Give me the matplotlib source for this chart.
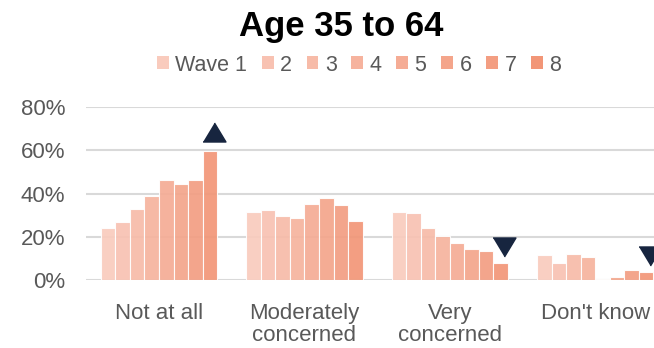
import numpy as np
import matplotlib.pyplot as plt
from matplotlib.patches import Patch

plt.rcParams['font.family'] = ['Liberation Sans', 'DejaVu Sans']

categories = ["Not at all", "Moderately\nconcerned", "Very\nconcerned", "Don't know"]
waves = ["Wave 1", "2", "3", "4", "5", "6", "7", "8"]

# share of respondents (%) per wave, one list per answer
not_at_all = [24.2, 27.0, 32.7, 39.0, 46.1, 44.4, 46.1, 59.6]
moderately = [31.5, 32.4, 29.6, 28.7, 35.0, 37.8, 34.6, 27.2]
very = [31.5, 31.0, 24.2, 20.4, 17.2, 14.4, 13.5, 8.1]
dont_know = [11.5, 8.0, 12.3, 10.6, 0.6, 1.7, 4.7, 3.8]

# direction of change from wave 1 to wave 8 (None = no marker)
trend = ["up", None, "down", "down"]

wave_colors = ["#F9CBBD", "#F8C2B2", "#F7BBA8", "#F6B39E", "#F5AC95",
               "#F4A58B", "#F39E82", "#F29677"]

values = np.array([not_at_all, moderately, very, dont_know])

fig = plt.figure(figsize=(6.54, 3.48), dpi=100)
ax = fig.add_axes([0.132, 0.1945, 0.8894, 0.498])

x = np.arange(len(categories))
w = 0.1
for i, wave in enumerate(waves):
    ax.bar(x + (i - 3.5) * w, values[:, i], width=w, color=wave_colors[i],
           alpha=0.92, edgecolor=(1, 1, 1, 0.6), linewidth=0.8, zorder=2)

up = [(-1, -0.83), (1, -0.83), (0, 0.83)]
down = [(-1, 0.83), (1, 0.83), (0, -0.83)]
for k, t in enumerate(trend):
    if t is None:
        continue
    top = values[k, -1]
    xm = x[k] + 3.5 * w + 0.025
    if t == "up":
        ax.plot(xm, top + 9, marker=up, ms=16.5, color="#17253F", zorder=3)
    else:
        ax.plot(xm, top + 7.2, marker=down, ms=16.5, color="#17253F", zorder=3)

ax.set_xlim(-0.5, 3.5)
ax.set_ylim(0, 80)
ax.set_yticks([0, 20, 40, 60, 80])
ax.set_yticklabels([f"{v}%" for v in [0, 20, 40, 60, 80]])
ax.set_xticks(x)
ax.set_xticklabels(categories)
for lab in ax.get_xticklabels():
    lab.set_linespacing(1.12)
ax.grid(axis='y', color='#D9D9D9', linewidth=1.5, zorder=0)
ax.set_axisbelow(True)
for s in ax.spines.values():
    s.set_visible(False)
ax.tick_params(axis='both', length=0, labelsize=16, labelcolor='#595959')
ax.tick_params(axis='x', pad=16)
ax.tick_params(axis='y', pad=15)

handles = [Patch(facecolor=c, edgecolor='none') for c in wave_colors]
fig.legend(handles, waves, loc='center', bbox_to_anchor=(0.549, 0.813),
           ncol=8, frameon=False, fontsize=15.5, handlelength=0.55,
           handleheight=0.55, handletextpad=0.3, columnspacing=0.68,
           labelcolor='#595959')

fig.text(0.521, 0.897, "Age 35 to 64", ha='center', va='baseline',
         fontsize=25, fontweight='bold')

fig.savefig("out.png", dpi=100)
